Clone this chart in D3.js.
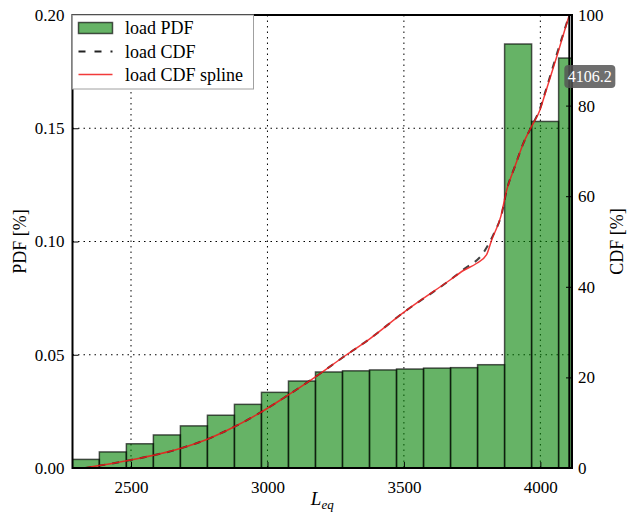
<!DOCTYPE html>
<html>
<head>
<meta charset="utf-8">
<script src="https://cdn.jsdelivr.net/npm/d3@7"></script>
<style>
  body { margin: 0; background: #fff; }
  text { font-family: "Liberation Serif", serif; fill: #000; }
</style>
</head>
<body>
<svg id="chart" width="632" height="515"></svg>
<script>
(function () {
  var binEdges = [2285, 2384, 2483, 2582, 2681, 2780, 2879, 2978, 3077, 3176, 3275,
    3374, 3473, 3572, 3671, 3770, 3869, 3968, 4067, 4166];
  var pdfValues = [0.0038, 0.0071, 0.0107, 0.0146, 0.0186, 0.0233, 0.0281, 0.0334, 0.0384,
    0.0424, 0.0429, 0.0433, 0.0437, 0.0441, 0.0443, 0.0456, 0.1872, 0.1530, 0.1810];

  var cdfX = [2330, 2484, 2680, 2777, 2875, 2973, 3058, 3168, 3290, 3370, 3498, 3669,
    3720, 3790, 3830, 3858, 3877, 3907, 3938, 3968, 3999, 4017, 4060, 4106];
  var cdfValues = [0, 1.6, 4.3, 6.3, 9.0, 12.2, 15.4, 19.8, 25.0, 28.3, 34.3, 41.5,
    43.9, 47.4, 51.8, 56.0, 61.4, 66.6, 71.7, 75.4, 79.4, 82.8, 91.3, 100];

  var splineX = [2330, 2484, 2680, 2777, 2875, 2973, 3058, 3168, 3290, 3370, 3498, 3669,
    3718, 3767, 3803, 3822, 3855, 3877, 3907, 3938, 3968, 3999, 4017, 4060, 4106];
  var splineValues = [0, 1.6, 4.3, 6.3, 9.0, 12.2, 15.4, 19.8, 25.0, 28.3, 34.3, 41.5,
    43.6, 45.2, 47.1, 50.4, 55.5, 61.4, 66.6, 71.7, 75.4, 79.1, 82.5, 90.8, 100];

  var xTicks = [2500, 3000, 3500, 4000];
  var pdfTicks = [0, 0.05, 0.10, 0.15, 0.20];
  var cdfTicks = [0, 20, 40, 60, 80, 100];
  var markValue = 4106.2;
  var legendLabels = ['load PDF', 'load CDF', 'load CDF spline'];

  var left = 72.5, right = 572, top = 15, bottom = 468;
  var svg = d3.select('#chart');

  var x = d3.scaleLinear().domain([2285.6, 4116]).range([left, right]);
  var yPdf = d3.scaleLinear().domain([0, 0.2]).range([bottom, top]);
  var yCdf = d3.scaleLinear().domain([0, 100]).range([bottom, top]);

  svg.append('clipPath').attr('id', 'plot-clip')
    .append('rect')
    .attr('x', left).attr('y', top)
    .attr('width', right - left).attr('height', bottom - top);

  // grid
  svg.append('g')
    .selectAll('line')
    .data(xTicks)
    .enter()
    .append('line')
    .attr('x1', function(d) {return x(d);})
    .attr('x2', function(d) {return x(d);})
    .attr('y1', top).attr('y2', bottom)
    .attr('stroke', '#000')
    .attr('stroke-width', 1)
    .attr('stroke-dasharray', '1.5,4');
  svg.append('g')
    .selectAll('line')
    .data(pdfTicks.slice(1, 4))
    .enter()
    .append('line')
    .attr('x1', left).attr('x2', right)
    .attr('y1', function(d) {return yPdf(d);})
    .attr('y2', function(d) {return yPdf(d);})
    .attr('stroke', '#000')
    .attr('stroke-width', 1)
    .attr('stroke-dasharray', '1.5,4');

  var plot = svg.append('g').attr('clip-path', 'url(#plot-clip)');

  plot.selectAll('.bar')
    .data(pdfValues)
    .enter()
    .append('rect')
    .attr('class', 'bar')
    .attr('x', function(d, i) {return x(binEdges[i]);})
    .attr('width', function(d, i) {return x(binEdges[i + 1]) - x(binEdges[i]);})
    .attr('y', function(d) {return yPdf(d);})
    .attr('height', function(d) {return yPdf(0) - yPdf(d);})
    .attr('fill', '#008000')
    .attr('fill-opacity', 0.6)
    .attr('stroke', '#000')
    .attr('stroke-opacity', 0.65)
    .attr('stroke-width', 1.5);

  var cdfLine = d3.line()
    .x(function(d) {return x(d[0]);})
    .y(function(d) {return yCdf(d[1]);})
    .curve(d3.curveMonotoneX);

  plot.append('path')
    .datum(d3.zip(cdfX, cdfValues))
    .attr('d', cdfLine)
    .attr('fill', 'none')
    .attr('stroke', '#222')
    .attr('stroke-opacity', 0.85)
    .attr('stroke-width', 2)
    .attr('stroke-dasharray', '7,7');

  plot.append('path')
    .datum(d3.zip(splineX, splineValues))
    .attr('d', cdfLine)
    .attr('fill', 'none')
    .attr('stroke', '#f01818')
    .attr('stroke-opacity', 0.85)
    .attr('stroke-width', 1.5);

  plot.append('line')
    .attr('x1', x(markValue)).attr('x2', x(markValue))
    .attr('y1', top).attr('y2', bottom)
    .attr('stroke', '#000')
    .attr('stroke-width', 2);

  // axes
  var axisBottom = svg.append('g')
    .attr('transform', 'translate(0,' + bottom + ')')
    .call(d3.axisBottom(x).tickValues(xTicks).tickFormat(d3.format('d')).tickSize(-6).tickPadding(12));
  var axisLeft = svg.append('g')
    .attr('transform', 'translate(' + left + ',0)')
    .call(d3.axisLeft(yPdf).tickValues(pdfTicks).tickFormat(d3.format('.2f')).tickSize(-6).tickPadding(8));
  var axisRight = svg.append('g')
    .attr('transform', 'translate(' + right + ',0)')
    .call(d3.axisRight(yCdf).tickValues(cdfTicks).tickFormat(d3.format('d')).tickSize(-6).tickPadding(6));
  [axisBottom, axisLeft, axisRight].forEach(function(a) {
    a.select('.domain').remove();
    a.selectAll('.tick line').attr('stroke', '#000').attr('stroke-width', 1);
    a.selectAll('.tick text')
      .attr('font-family', '"Liberation Serif", serif')
      .attr('font-size', '17px');
  });
  axisBottom.selectAll('.tick text').attr('dy', '0.75em');

  svg.append('rect')
    .attr('x', left).attr('y', top)
    .attr('width', right - left).attr('height', bottom - top)
    .attr('fill', 'none')
    .attr('stroke', '#000')
    .attr('stroke-width', 2);

  // value label
  var labelY = 76.5;
  svg.append('rect')
    .attr('x', x(markValue) - 5).attr('y', labelY - 11.5)
    .attr('width', 51).attr('height', 23)
    .attr('rx', 4)
    .attr('fill', '#555')
    .attr('fill-opacity', 0.85);
  svg.append('text')
    .attr('x', x(markValue) + 20.5).attr('y', labelY)
    .attr('text-anchor', 'middle')
    .attr('dominant-baseline', 'central')
    .attr('font-size', '16px')
    .style('fill', '#fff')
    .text(markValue.toFixed(1));

  // axis titles
  svg.append('text')
    .attr('transform', 'translate(26,' + ((top + bottom) / 2) + ') rotate(-90)')
    .attr('text-anchor', 'middle')
    .attr('font-size', '18px')
    .text('PDF [%]');
  svg.append('text')
    .attr('transform', 'translate(623,' + ((top + bottom) / 2) + ') rotate(-90)')
    .attr('text-anchor', 'middle')
    .attr('font-size', '18px')
    .text('CDF [%]');
  var xTitle = svg.append('text')
    .attr('x', (left + right) / 2)
    .attr('y', 505)
    .attr('text-anchor', 'middle')
    .attr('font-size', '19px')
    .attr('font-style', 'italic');
  xTitle.append('tspan').text('L');
  xTitle.append('tspan').attr('dy', 4).attr('font-size', '13px').text('eq');

  // legend
  var legend = svg.append('g');
  legend.append('rect')
    .attr('x', left).attr('y', top)
    .attr('width', 181).attr('height', 74)
    .attr('fill', '#fff')
    .attr('stroke', '#a0a0a0')
    .attr('stroke-width', 1);
  var rowY = [28, 51.5, 74.5];
  legend.append('rect')
    .attr('x', 78.5).attr('y', rowY[0] - 5.5)
    .attr('width', 34).attr('height', 11)
    .attr('fill', '#008000').attr('fill-opacity', 0.6)
    .attr('stroke', '#000').attr('stroke-opacity', 0.65).attr('stroke-width', 1.5);
  legend.append('line')
    .attr('x1', 78.5).attr('x2', 112.5)
    .attr('y1', rowY[1]).attr('y2', rowY[1])
    .attr('stroke', '#222').attr('stroke-width', 2)
    .attr('stroke-dasharray', '7,9');
  legend.append('line')
    .attr('x1', 78.5).attr('x2', 112.5)
    .attr('y1', rowY[2]).attr('y2', rowY[2])
    .attr('stroke', '#f01818').attr('stroke-opacity', 0.85).attr('stroke-width', 1.5);
  legend.selectAll('.legend-text')
    .data(legendLabels)
    .enter()
    .append('text')
    .attr('class', 'legend-text')
    .attr('x', 125)
    .attr('y', function(d, i) {return rowY[i];})
    .attr('dominant-baseline', 'central')
    .attr('font-size', '18px')
    .text(function(d) {return d;});
})();
</script>
</body>
</html>
